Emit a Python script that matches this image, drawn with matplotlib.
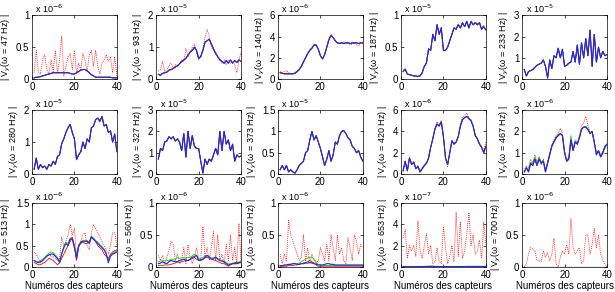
import numpy as np
import matplotlib.pyplot as plt

plt.rcParams['font.family'] = ['Liberation Sans', 'DejaVu Sans']

x = np.arange(1, 41)

freqs = [47, 93, 140, 187, 233, 280, 327, 373, 420, 467, 513, 560, 607, 653, 700]
exps = [-6, -5, -6, -5, -5, -5, -5, -5, -6, -6, -6, -6, -6, -7, -6]
ymax = [1, 2, 6, 1, 3, 2, 3, 1.5, 6, 3, 1.5, 1, 1, 6, 1]
yticks = [[0, 0.5, 1], [0, 1, 2], [0, 2, 4, 6], [0, 0.5, 1], [0, 1, 2, 3],
          [0, 1, 2], [0, 1, 2, 3], [0, 0.5, 1, 1.5], [0, 2, 4, 6], [0, 1, 2, 3],
          [0, 0.5, 1, 1.5], [0, 0.5, 1], [0, 0.5, 1], [0, 2, 4, 6], [0, 0.5, 1]]

# values in units of 10^exp
b47 = [0.02,0.03,0.03,0.04,0.05,0.06,0.07,0.08,0.09,0.10,0.10,0.10,0.10,0.10,0.10,0.10,0.10,0.09,0.08,0.08,
       0.10,0.12,0.14,0.15,0.15,0.13,0.10,0.07,0.05,0.03,0.03,0.03,0.03,0.03,0.03,0.03,0.03,0.02,0.02,0.02]
d47 = [0.10,0.45,0.12,0.08,0.30,0.38,0.15,0.08,0.30,0.12,0.45,0.10,0.30,0.67,0.05,0.20,0.35,0.40,0.15,0.45,
       0.10,0.25,0.15,0.40,0.30,0.12,0.38,0.45,0.20,0.45,0.20,0.08,0.25,0.30,0.38,0.28,0.35,0.10,0.35,0.05]

b93 = [0.15,0.12,0.18,0.20,0.22,0.28,0.30,0.33,0.38,0.42,0.48,0.55,0.60,0.65,0.75,0.85,0.90,1.00,0.90,0.65,
       0.70,0.90,1.15,1.20,1.25,1.10,0.95,0.80,0.70,0.60,0.55,0.50,0.58,0.50,0.60,0.50,0.58,0.52,0.60,0.55]
d93 = [0.25,0.30,0.55,0.25,0.30,0.40,0.50,0.35,0.45,0.40,0.50,0.60,0.55,0.95,0.70,0.85,1.00,1.10,0.85,0.60,
       0.75,0.95,1.30,1.55,1.35,1.00,0.90,0.85,0.70,0.65,0.50,0.60,0.45,0.60,0.50,0.55,0.45,0.20,0.60,0.85]

b140 = [0.6,0.55,0.5,0.5,0.5,0.5,0.5,0.55,0.7,0.9,1.2,1.6,2.0,2.4,2.7,2.9,3.2,3.2,2.8,2.2,
        1.9,2.3,3.0,3.7,4.1,3.9,3.6,3.4,3.35,3.4,3.35,3.4,3.4,3.35,3.4,3.4,3.4,3.35,3.4,3.4]
d140 = [0.7,0.6,0.7,0.8,0.6,0.5,0.5,0.6,0.8,0.9,1.2,1.7,2.0,2.4,2.8,2.9,3.3,3.2,2.8,2.2,
        1.9,2.3,3.0,3.8,4.2,3.9,3.6,3.4,3.4,3.3,3.5,3.4,3.5,3.2,3.3,3.4,3.2,3.1,3.4,3.4]

b187 = [0.12,0.15,0.08,0.07,0.06,0.05,0.05,0.04,0.05,0.10,0.20,0.25,0.47,0.45,0.70,0.60,0.85,0.70,0.80,0.45,
        0.45,0.50,0.60,0.70,0.80,0.78,0.85,0.80,0.88,0.82,0.90,0.80,0.90,0.85,0.88,0.85,0.88,0.78,0.82,0.77]
d187 = [0.14,0.17,0.09,0.07,0.06,0.05,0.05,0.05,0.06,0.11,0.21,0.26,0.48,0.46,0.71,0.61,0.86,0.71,0.81,0.44,
        0.44,0.51,0.61,0.71,0.81,0.79,0.86,0.81,0.89,0.83,0.91,0.82,0.91,0.86,0.89,0.86,0.89,0.80,0.84,0.78]

b233 = [0.45,0.15,0.35,0.40,0.45,0.55,0.65,0.70,0.75,0.90,0.60,0.05,0.90,0.50,1.10,1.00,1.45,1.00,1.40,0.60,
        0.65,0.75,0.80,1.30,0.80,1.60,0.70,1.70,1.00,1.90,1.10,2.30,0.60,2.10,0.80,1.50,1.00,1.30,1.10,1.15]

b280 = [0.15,0.50,0.15,0.30,0.20,0.25,0.15,0.30,0.25,0.40,0.30,0.55,0.60,0.95,1.10,1.30,1.45,1.55,1.30,1.10,
        0.45,0.60,0.70,1.00,0.80,1.10,1.00,1.45,1.50,1.70,1.75,1.65,1.80,1.50,1.55,1.30,1.35,1.00,1.25,0.70]

b327 = [0.70,1.20,1.10,1.50,1.55,1.75,1.65,1.75,1.55,1.65,1.50,1.10,1.90,0.80,2.00,1.20,1.80,1.30,1.20,1.20,
        0.60,0.05,0.70,0.45,0.70,0.60,0.90,1.20,0.90,2.00,1.10,2.00,1.40,1.60,1.10,1.40,0.60,0.90,0.80,0.85]

b373 = [0.10,0.20,0.10,0.20,0.05,0.10,0.05,0.02,0.10,0.20,0.25,0.30,0.50,0.55,0.80,1.00,0.80,0.90,0.75,0.60,
        0.40,0.20,0.35,0.55,0.30,0.45,0.75,0.70,0.90,1.00,1.02,0.95,0.85,0.80,0.65,0.60,0.50,0.55,0.40,0.30]

b420 = [0.3,1.2,0.3,1.5,0.9,1.1,0.5,0.7,0.2,0.5,0.8,1.0,1.5,2.5,3.3,4.2,4.7,4.5,4.9,3.5,
        1.5,0.9,2.0,3.1,2.8,3.0,3.5,4.5,5.1,5.3,5.4,5.2,5.0,4.5,3.6,3.3,2.8,2.5,2.0,2.6]
d420 = [0.5,1.0,0.4,1.6,1.0,1.2,0.6,0.8,0.3,0.6,0.9,1.1,1.6,2.6,3.4,4.4,4.9,4.7,5.0,3.6,
        1.4,0.7,2.1,3.2,2.9,3.1,3.6,4.7,5.3,5.5,5.7,5.3,5.1,4.6,3.7,3.3,2.9,2.6,2.2,3.0]

b467 = [0.10,0.30,0.10,0.50,0.40,0.70,0.40,0.70,0.50,0.60,0.10,0.50,0.90,1.30,1.50,1.70,1.80,1.90,1.80,1.00,
        0.60,0.70,1.60,1.10,1.50,1.40,1.70,2.10,2.20,2.20,2.10,1.90,2.00,1.50,0.90,1.10,0.80,1.00,1.30,1.40]
g467 = [0.10,0.30,0.15,0.55,0.50,0.80,0.50,0.80,0.55,0.65,0.15,0.55,0.95,1.35,1.55,1.75,1.85,1.90,1.80,1.05,
        0.60,0.75,1.80,1.15,1.55,1.45,1.70,2.10,2.20,2.25,2.10,1.95,2.00,1.50,1.00,1.10,0.90,1.05,1.20,1.40]
d467 = [0.15,0.40,0.30,0.70,0.50,0.90,0.60,0.80,0.45,0.70,0.20,0.60,1.00,1.40,1.60,1.80,1.90,2.15,1.90,1.10,
        0.65,0.80,1.60,1.20,1.60,1.50,1.80,2.30,2.40,2.70,2.30,2.00,2.00,1.40,1.00,1.00,0.80,0.90,1.20,1.30]

b513 = [0.15,0.12,0.10,0.12,0.15,0.20,0.25,0.28,0.30,0.30,0.25,0.20,0.10,0.30,0.45,0.55,0.50,0.65,0.65,0.45,
        0.20,0.50,0.55,0.60,0.60,0.60,0.55,0.70,0.65,0.60,0.55,0.50,0.45,0.40,0.30,0.10,0.25,0.30,0.32,0.35]
g513 = [0.15,0.12,0.12,0.15,0.18,0.22,0.28,0.32,0.35,0.33,0.28,0.22,0.12,0.32,0.48,0.58,0.55,0.68,0.68,0.50,
        0.25,0.52,0.58,0.62,0.62,0.62,0.58,0.72,0.68,0.62,0.58,0.52,0.48,0.42,0.32,0.15,0.28,0.32,0.35,0.38]
r513 = [0.10,0.08,0.05,0.05,0.08,0.10,0.15,0.20,0.18,0.15,0.10,0.05,0.10,0.20,0.30,0.40,0.50,0.60,0.70,0.50,
        0.15,0.45,0.60,0.58,0.55,0.55,0.60,0.70,0.65,0.60,0.50,0.45,0.40,0.30,0.25,0.20,0.30,0.35,0.38,0.40]
d513 = [0.35,0.30,0.20,0.10,0.15,0.20,0.25,0.30,0.25,0.25,0.20,0.15,0.20,0.70,0.50,0.60,0.75,1.00,0.75,0.90,
        0.30,0.50,0.60,0.75,0.80,0.50,0.40,0.80,1.00,0.90,0.80,0.70,0.60,0.50,0.40,0.30,0.50,0.80,0.80,0.50]

b560 = [0.05,0.06,0.08,0.06,0.05,0.08,0.10,0.09,0.08,0.08,0.10,0.11,0.12,0.10,0.10,0.12,0.15,0.16,0.18,0.10,
        0.11,0.12,0.15,0.18,0.15,0.12,0.13,0.15,0.12,0.10,0.09,0.08,0.05,0.03,0.04,0.05,0.05,0.05,0.06,0.07]
g560 = [0.08,0.09,0.10,0.09,0.10,0.10,0.12,0.12,0.12,0.15,0.13,0.14,0.15,0.13,0.15,0.15,0.17,0.20,0.18,0.12,
        0.13,0.15,0.17,0.18,0.16,0.14,0.14,0.16,0.13,0.11,0.10,0.09,0.07,0.05,0.05,0.06,0.07,0.07,0.08,0.08]
r560 = [0.02,0.02,0.02,0.03,0.03,0.03,0.04,0.05,0.06,0.08,0.07,0.08,0.09,0.10,0.10,0.12,0.13,0.15,0.12,0.10,
        0.10,0.12,0.14,0.15,0.14,0.12,0.11,0.10,0.08,0.07,0.05,0.05,0.03,0.01,0.03,0.05,0.06,0.07,0.07,0.08]
d560 = [0.18,0.10,0.18,0.05,0.15,0.25,0.40,0.35,0.10,0.20,0.05,0.10,0.30,0.05,0.35,0.15,0.05,0.15,0.30,0.15,
        0.10,0.63,0.15,0.30,0.10,0.30,0.55,0.10,0.50,0.10,0.20,0.05,0.35,0.10,0.50,0.10,0.30,0.05,0.68,0.05]

b607 = [0.02,0.02,0.03,0.03,0.04,0.04,0.05,0.05,0.04,0.04,0.05,0.05,0.06,0.06,0.07,0.06,0.05,0.04,0.03,0.03,
        0.03,0.04,0.05,0.05,0.04,0.04,0.03,0.03,0.03,0.03,0.03,0.03,0.03,0.03,0.03,0.03,0.03,0.03,0.03,0.03]
g607 = [0.01,0.02,0.02,0.03,0.03,0.04,0.05,0.06,0.05,0.06,0.08,0.10,0.12,0.14,0.15,0.15,0.12,0.08,0.04,0.02,
        0.02,0.02,0.02,0.02,0.02,0.02,0.02,0.02,0.02,0.02,0.02,0.02,0.02,0.02,0.02,0.02,0.02,0.02,0.02,0.02]
r607 = [0.01,0.01,0.01,0.01,0.02,0.02,0.02,0.03,0.03,0.04,0.05,0.06,0.07,0.08,0.10,0.08,0.06,0.03,0.01,0.01,
        0.01,0.01,0.01,0.01,0.01,0.01,0.01,0.01,0.01,0.01,0.01,0.01,0.01,0.01,0.01,0.01,0.01,0.01,0.01,0.01]
d607 = [0.20,0.05,0.20,0.10,0.73,0.50,0.40,0.30,0.20,0.10,0.15,0.50,0.10,0.30,0.05,0.20,0.10,0.05,0.10,0.30,
        0.20,0.10,0.35,0.10,0.50,0.30,0.10,0.50,0.20,0.30,0.10,0.05,0.45,0.30,0.10,0.50,0.40,0.20,0.35,0.30]

b653 = [0.02,0.02,0.02,0.02,0.02,0.02,0.02,0.03,0.03,0.03,0.04,0.04,0.05,0.05,0.05,0.04,0.04,0.03,0.03,0.03,
        0.03,0.03,0.03,0.03,0.03,0.03,0.03,0.03,0.03,0.03,0.04,0.04,0.04,0.04,0.04,0.04,0.04,0.04,0.04,0.04]
d653 = [2.7,3.5,0.8,2.0,1.5,2.0,1.0,4.3,1.5,0.8,2.0,3.1,1.2,2.0,0.3,0.5,1.8,0.5,0.3,3.8,
        1.8,0.3,1.0,2.0,0.5,5.1,1.0,4.2,0.8,1.5,3.0,5.1,2.0,3.0,1.2,1.5,2.5,0.8,4.2,2.0]

b700 = [0.005] * 40
d700 = [0.00,0.05,0.20,0.30,0.28,0.25,0.10,0.10,0.08,0.25,0.15,0.22,0.10,0.20,0.45,0.05,0.00,0.15,0.25,0.20,
        0.35,0.20,0.75,0.30,0.20,0.25,0.30,0.05,0.10,0.50,0.50,0.20,0.35,0.60,0.30,0.50,0.20,0.10,0.05,0.00]

# (dotted red, green, red, blue) per panel
series = [
    (d47, b47, b47, b47), (d93, b93, b93, b93), (d140, b140, b140, b140),
    (d187, b187, b187, b187), (b233, b233, b233, b233),
    (b280, b280, b280, b280), (b327, b327, b327, b327), (b373, b373, b373, b373),
    (d420, b420, b420, b420), (d467, g467, b467, b467),
    (d513, g513, r513, b513), (d560, g560, r560, b560), (d607, g607, r607, b607),
    (d653, b653, b653, b653), (d700, b700, b700, b700),
]

fig = plt.figure(figsize=(6.15, 2.92), dpi=100)
lefts = [0.052, 0.254, 0.452, 0.652, 0.849]
bottoms = [0.729, 0.404, 0.086]
w, h = 0.138, 0.219

for i in range(15):
    r, c = divmod(i, 5)
    ax = fig.add_axes([lefts[c], bottoms[r], w, h])
    d, g, rr, b = series[i]
    ax.plot(x, d, color='#ff2020', ls=(0, (1.2, 1.2)), lw=0.6)
    ax.plot(x, g, color='#00dd00', lw=0.6)
    ax.plot(x, rr, color='#ff0000', lw=0.6)
    ax.plot(x, b, color='#1a2aee', lw=0.85)
    ax.set_xlim(0, 40)
    ax.set_ylim(0, ymax[i])
    ax.set_xticks([0, 20, 40])
    ax.set_yticks(yticks[i])
    ax.set_yticklabels(['%g' % t for t in yticks[i]])
    ax.tick_params(direction='in', length=2, width=0.5, labelsize=7, pad=2,
                   top=True, right=True)
    for s in ax.spines.values():
        s.set_linewidth(0.5)
    ax.set_ylabel('| V$_y$(ω = %d Hz) |' % freqs[i], fontsize=6.5, labelpad=2)
    ax.text(0.04, 1.03, 'x 10$^{%d}$' % exps[i], transform=ax.transAxes, fontsize=6.5)
    if r == 2:
        ax.set_xlabel('Numéros des capteurs', fontsize=7, labelpad=1)

plt.savefig('out.png', dpi=100)
